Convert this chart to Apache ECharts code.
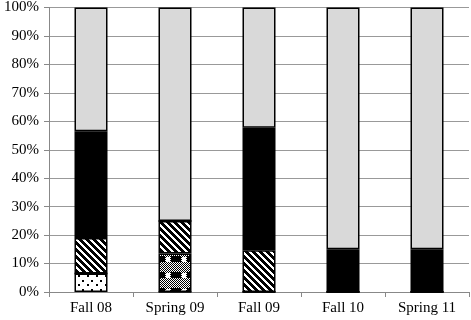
<!DOCTYPE html>
<html><head><meta charset="utf-8">
<script src="https://cdn.jsdelivr.net/npm/echarts@6/dist/echarts.min.js"></script>
<style>html,body{margin:0;padding:0;background:#fff}#c{width:471px;height:320px}</style>
</head><body><div id="c"></div>
<script>
var categories = ['Fall 08', 'Spring 09', 'Fall 09', 'Fall 10', 'Spring 11'];
var dotsVals    = [6.5, 0, 0, 0, 0];
var plaidVals   = [0, 13.5, 0, 0, 0];
var stripeVals  = [12.5, 11.5, 14.7, 0, 0];
var blackVals   = [37.5, 0, 43, 15, 15];
var grayVals    = [43.5, 75, 42.3, 85, 85];
var yTicks = [0,10,20,30,40,50,60,70,80,90,100];

function mk(w,h,draw){var c=document.createElement('canvas');c.width=w;c.height=h;var g=c.getContext('2d');g.fillStyle='#fff';g.fillRect(0,0,w,h);g.fillStyle='#000';draw(g);return c;}
var dotsPat = mk(9,9,function(g){g.fillRect(1,1,2,2);g.fillRect(6,5,2,2);});
var stripePat = mk(7,7,function(g){
  for(var y=0;y<7;y++){for(var x=0;x<7;x++){ if(((x - y + 14) % 7) < 4) g.fillRect(x,y,1,1);} }
});
var plaidPat = mk(16,16,function(g){
  for(var y=0;y<16;y++){for(var x=0;x<16;x++){ if((x+y)%2===0) g.fillRect(x,y,1,1);} }
  g.fillRect(0,0,5,6);g.fillRect(11,0,5,6);g.fillStyle='#fff';g.fillRect(6,1,4,5);
});

function ser(name,data,color){
  return {name:name,type:'bar',stack:'a',data:data,barWidth:33,
    itemStyle:{color:color,borderColor:'#000',borderWidth:1.5},silent:true};
}
var chart = echarts.init(document.getElementById('c'),null,{renderer:'canvas'});
chart.setOption({
  animation:false,
  grid:{left:49,right:2,top:6,bottom:28,containLabel:false},
  xAxis:{type:'category',data:categories,
    axisLine:{lineStyle:{color:'#888',width:1}},
    axisTick:{show:true,length:5,lineStyle:{color:'#888'}},
    axisLabel:{color:'#000',fontFamily:'Liberation Serif',fontSize:15,margin:9}},
  yAxis:{type:'value',min:0,max:100,interval:10,
    axisLine:{show:true,lineStyle:{color:'#888'}},
    axisTick:{show:true,length:5,lineStyle:{color:'#888'}},
    splitLine:{lineStyle:{color:'#999',width:1}},
    axisLabel:{color:'#000',fontFamily:'Liberation Serif',fontSize:15,margin:10,
      formatter:function(v){return yTicks.indexOf(v)>=0? v+'%':'';}}},
  series:[
    ser('dots',dotsVals,{image:dotsPat,repeat:'repeat'}),
    ser('plaid',plaidVals,{image:plaidPat,repeat:'repeat'}),
    ser('stripes',stripeVals,{image:stripePat,repeat:'repeat'}),
    ser('black',blackVals,'#000'),
    ser('gray',grayVals,'#d9d9d9')
  ]
});
</script></body></html>
